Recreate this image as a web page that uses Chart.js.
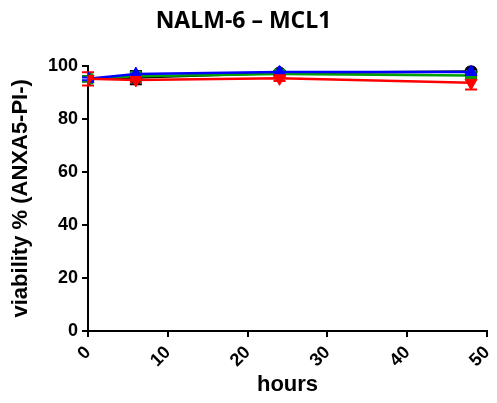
<!DOCTYPE html>
<html>
<head>
<meta charset="utf-8">
<script src="https://cdn.jsdelivr.net/npm/chart.js@4"></script>
<style>
  html, body { margin: 0; padding: 0; background: #fff; }
  #wrap { width: 497px; height: 403px; }
</style>
</head>
<body>
<div id="wrap"><canvas id="c" width="497" height="403"></canvas></div>
<script>
const hours = [0, 6, 24, 48];
const xTicks = [0, 10, 20, 30, 40, 50];
const yTicks = [0, 20, 40, 60, 80, 100];

const blackMean = [95.0, 95.5, 97.2, 97.8];
const blackErr  = [1.0, 2.5, 0.5, 0.5];
const greenMean = [95.0, 96.0, 96.8, 96.3];
const greenErr  = [1.0, 0.8, 1.0, 1.0];
const blueMean  = [95.0, 96.8, 97.6, 97.6];
const blueErr   = [0.5, 0.5, 0.5, 0.5];
const redMean   = [95.0, 94.6, 95.2, 93.5];
const redErr    = [2.5, 0.8, 1.0, 2.5];

function pts(means) { return hours.map((h, i) => ({ x: h, y: means[i] })); }

const series = [
  { name: 'black', color: '#000000', mean: blackMean, err: blackErr, style: 'circle', rot: 0, r: 6, order: 4 },
  { name: 'green', color: '#00a000', mean: greenMean, err: greenErr, style: 'rect', rot: 0, r: 7, order: 3 },
  { name: 'blue',  color: '#0000ff', mean: blueMean,  err: blueErr,  style: 'triangle', rot: 0, r: 7, order: 2 },
  { name: 'red',   color: '#ff0000', mean: redMean,   err: redErr,   style: 'triangle', rot: 180, r: 7, order: 1 }
];

const errorBars = {
  id: 'errorBars',
  beforeDatasetsDraw(chart) {
    const ctx = chart.ctx;
    const ys = chart.scales.y, xs = chart.scales.x;
    ctx.save();
    chart.data.datasets.slice().sort((a, b) => b.order - a.order).forEach(ds => {
      ctx.strokeStyle = ds.borderColor;
      ctx.lineWidth = 2;
      ds.errData.forEach((e, i) => {
        const p = ds.data[i];
        const px = xs.getPixelForValue(p.x);
        const top = ys.getPixelForValue(p.y + e);
        const bot = ys.getPixelForValue(p.y - e);
        ctx.beginPath();
        ctx.moveTo(px, top); ctx.lineTo(px, bot);
        ctx.moveTo(px - 6, top); ctx.lineTo(px + 6, top);
        ctx.moveTo(px - 6, bot); ctx.lineTo(px + 6, bot);
        ctx.stroke();
      });
    });
    ctx.restore();
  }
};

const tickFont = { family: 'Liberation Sans', weight: 'bold', size: 18 };
const titleFont = { family: 'Liberation Sans', weight: 'bold', size: 22 };

new Chart(document.getElementById('c'), {
  type: 'line',
  data: {
    datasets: series.map(s => ({
      label: s.name,
      data: pts(s.mean),
      errData: s.err,
      borderColor: s.color,
      backgroundColor: s.color,
      borderWidth: 2.5,
      pointStyle: s.style,
      pointRotation: s.rot,
      pointRadius: s.r,
      pointBorderWidth: 1,
      tension: 0,
      order: s.order
    }))
  },
  options: {
    responsive: false,
    animation: false,
    devicePixelRatio: 1,
    layout: { padding: { left: 0, right: 10, top: 0, bottom: 0 } },
    plugins: {
      legend: { display: false },
      tooltip: { enabled: false },
      title: {
        display: true,
        text: 'NALM-6 – MCL1',
        color: '#000',
        font: { family: 'Open Sans', weight: 'bold', size: 23, lineHeight: 1.2 },
        padding: { top: 8, bottom: 30 }
      }
    },
    scales: {
      x: {
        type: 'linear',
        min: 0, max: 50,
        afterBuildTicks(scale) { scale.ticks = xTicks.map(v => ({ value: v })); },
        afterFit(scale) { scale.height = 72; scale.paddingRight = 0; scale.paddingLeft = 0; },
        border: { display: true, color: '#000', width: 2 },
        grid: { drawOnChartArea: false, drawTicks: true, tickLength: 6, color: '#000', lineWidth: 2 },
        ticks: { color: '#000', font: tickFont, minRotation: 45, maxRotation: 45, padding: 5 },
        title: { display: true, text: 'hours', color: '#000', font: titleFont, padding: { top: 0, bottom: 5 } }
      },
      y: {
        type: 'linear',
        min: 0, max: 100,
        afterBuildTicks(scale) { scale.ticks = yTicks.map(v => ({ value: v })); },
        afterFit(scale) { scale.width = 88; scale.paddingTop = 0; scale.paddingBottom = 0; },
        border: { display: true, color: '#000', width: 2 },
        grid: { drawOnChartArea: false, drawTicks: true, tickLength: 6, color: '#000', lineWidth: 2 },
        ticks: { color: '#000', font: tickFont, padding: 4 },
        title: { display: true, text: 'viability % (ANXA5-PI-)', color: '#000', font: titleFont, padding: { top: 8, bottom: 0 } }
      }
    }
  },
  plugins: [errorBars]
});
</script>
</body>
</html>
